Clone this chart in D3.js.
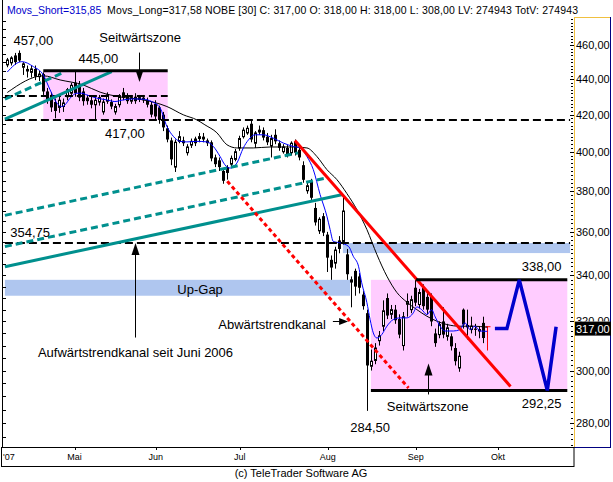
<!DOCTYPE html>
<html><head><meta charset="utf-8">
<script src="https://cdn.jsdelivr.net/npm/d3@7/dist/d3.min.js"></script>
<style>
body{margin:0;background:#fff;}
svg{display:block;}
.ann{font-family:"Liberation Sans",Arial,sans-serif;font-size:13px;fill:#000;}
.nar{font-family:"Liberation Sans",Arial,sans-serif;}
</style></head><body>
<svg id="c" width="613" height="482"></svg>
<script>
// ---------- DATA ----------
// candle index 0 = first trading day shown (early April 2007), one per trading day
const opens  = [448.4,449.6,454,455.5,447,446,444,446,441.5,443,433,431,427,424,424.5,430,432,438,437,433,429.5,428,425.5,427,421.5,427.5,427,421.5,425.5,432.5,430.5,427.5,430,428.5,429.5,428,425.5,426,424,420,412.5,406,392,405.5,406,399.5,403.5,407,407,408,406,405,397,395.5,390,392,393.5,396,402,408,410,415,404.5,410.5,411.5,408,403,409,404.5,400,402,399.5,405.5,401,393,380,384.5,371.5,360.5,367.5,358.7,347,345.5,356,355.5,349.5,337,342,339.5,331.5,323.5,301.7,304,312,318,330,323,325,321,310,327.3,325,334.5,327.2,334.4,330.5,330.5,315,314.5,320,313.8,313.8,309,301,325,318.5,316.6,317,316,319.4,318];
const highs  = [452.5,453.5,455.5,457,450,448,448,448,445,444,435,432.5,429,430,429,435,438,445,439,435,431,430,430,431,429,432.5,428.5,426,431.5,435,432,431,432,431,431,429.5,427,428,425,421.5,414,407.5,406.5,411,408,404,407,408,410,410,407,406,398.5,397,391,393,398,401.5,408.5,413,414,417,411,414,413,410,409,412,406,404,403.5,405.5,406.5,403,395,384,386,374,367,369,360,349,353,358,378,352,339.5,343,341,333,325,308.4,311,316,329,332,327,327,323,324,332,331,338,334,336,332.5,332,317,320,326,319,315,311,307.5,325.5,325,322,319,318,322,318];
const lows   = [447,448,448.4,450,442.5,441,441,439.5,439,431,426,421.5,418,421,421.5,428,431,430,427.5,425,425.5,423.5,417.5,425,420,426,423,420,424,428,426,426,426,427,426.5,424,418.5,417,415,411,405,393,389.5,404.5,403,398,402,403,405,405,403,395,392,390,383.5,385.6,392,395,400.5,407,409,405,402,409,406,403.5,397,404,400.5,399,397,398,398,395.5,384,378.5,375,363,359,358,341.5,338,343,350,354,338,326,331,332,325,284.5,300,302.5,310,316,321,321,319,313,308,322,323.5,326.5,325.5,325,323,318,309.5,313,313,312,308,302,299.5,317,312.5,315,314,313,311,308];
const closes = [451.3,452.5,450,451,449,444.5,446,441.5,443,433,428.5,424,422,428,426.5,434,436.5,432,429.5,427.5,427.5,425.5,428,429.5,427,431,424.5,424.5,430,429.5,427.5,429.5,427.5,429.5,428,425.5,420,419,417,413,406.5,396,405,408,404.5,402.5,405.5,404.5,408,406.5,404.5,396.5,393.5,392,385,389,396.5,400,407,411.5,412.5,406.5,410,411.5,407.5,405,407,405.5,402,402.5,398.5,404.5,399.5,397,385.5,382.5,376.5,364.5,366,359.6,348,343.5,351.5,352,370,340.5,338,335,334.5,326.5,302,303.7,309,314,324.5,322.5,325,320.5,314.5,322,328.5,329.3,328,332.4,326.5,325,320,311,318.7,314.5,317.3,309.7,303.7,305.7,318.7,317.5,318,316.5,316.6,313.1,317];

// moving averages: [candle index, value]
const maShort = [[0,444.2],[3.6,450.3],[6.5,447.4],[9,442.5],[10.7,433.9],[12.4,426.4],[13.6,424.5],[14.4,425.4],[15.7,429.2],[17.4,432],[18.6,432],[19.9,431],[22.4,429.2],[24.9,428.2],[26.9,427.3],[29,428.2],[31.5,428.8],[34,428.6],[36.1,427.3],[38.2,423.7],[39.9,413.5],[41.5,408.2],[43.2,405.5],[44.9,405.2],[47.4,405.5],[49.9,405.2],[51.5,402.8],[53.2,397.5],[54.4,393.2],[55.7,391.5],[57.4,394.1],[59,402],[60.3,406.3],[61.9,409],[64,409],[66.5,407.2],[69,404.6],[71.5,402.8],[73.2,402],[74.9,397.5],[76.5,390.7],[78.2,378.1],[79.9,367.5],[80.7,361.1],[81.5,355.5],[83.2,354.8],[85.3,353.2],[86.5,348.6],[87.8,344.1],[88.6,336.7],[89.9,328],[90.7,320.8],[91.5,315.2],[92.4,313.1],[93.6,314.5],[94.9,318],[96.5,320.8],[98.2,321.5],[99.9,321.5],[101.5,323.6],[102.4,326.2],[103.6,325],[104.9,322.9],[106.1,325],[106.9,322.2],[108.2,318],[109.4,316],[111.5,316],[113.2,316.6],[114.4,319.4],[115.7,316.6],[116.9,318],[118.2,316],[120,315.85]];
const maLong = [[0,432.4],[9,442],[13.2,439.6],[19,436.7],[23.2,432.6],[28.2,429.9],[34,428.2],[39.9,424.5],[44,419.9],[47.4,417.1],[49.4,414.4],[52.4,410.1],[54.9,403.7],[57.4,402],[61.5,402],[65.7,402.5],[71.5,402.5],[74.9,402],[77.4,397.5],[79.9,390.7],[82.4,385.6],[84.9,378.6],[87.4,370.7],[89.9,361.1],[92.4,349.4],[94.9,339.6],[97.4,332.4],[99.9,328.2],[102.4,325],[104.9,322.2],[107.4,320.1],[109.9,318.7],[113.2,318],[116.5,318],[120,317.58]];

// month ticks (candle-index positions) and labels
const monthLabels = ["'07","Mai","Jun","Jul","Aug","Sep","Okt"];
const monthPos    = [-0.2,16.8,37.1,58.1,80.1,102.1,122.7];
const yTickValues = [280,300,320,340,360,380,400,420,440,460];

// annotations (index, price)
const zones = [{x0:9.0,x1:40.1,top:445,bottom:417,lineFrom:9.0},{x0:90.9,x1:140.0,top:338,bottom:292.25,lineFrom:102.2}];
const gaps  = [{x0:-0.6,x1:85.7,lo:331.0,hi:338.0},{x0:83.9,x1:140.7,lo:350.1,hi:354.75}];
const levels = [{v:417,x0:-0.6,x1:140.7},{v:430.5,x0:-0.6,x1:40.1},{v:354.75,x0:-0.6,x1:140.7}];
const tealLines = [
  {x0:-0.6,v0:343.9,x1:83.9,v1:378.1,dash:false},
  {x0:-0.6,v0:353.1,x1:80.2,v1:386.6,dash:true},
  {x0:-0.6,v0:367.9,x1:72.7,v1:399.4,dash:true},
  {x0:-0.6,v0:417.5,x1:26.1,v1:444.4,dash:false},
  {x0:-0.6,v0:428.6,x1:14.4,v1:444.4,dash:true}];
const redLines = [{x0:71.9,v0:406,x1:125.8,v1:293.8,dash:false},{x0:55,v0:384.8,x1:100.3,v1:293.2,dash:true}];
const forecast = [[121.9,317],[124.9,317],[128,338],[135,292.25],[137.2,317.8]];
const vArrows = [{i:33.0,from:455.7,to:438.4},{i:31.9,from:313.3,to:354.75},{i:105.1,from:290.7,to:302.8}];
const hArrows = [{from:81.4,to:85.2,v:320.3}];
const labels = [
  {t:"457,00",i:6.5,v:462.9,a:"middle"},
  {t:"Seitwärtszone",i:33.2,v:465.1,a:"middle"},
  {t:"445,00",i:22.75,v:452.3,a:"middle"},
  {t:"417,00",i:29.4,v:409.9,a:"middle"},
  {t:"354,75",i:5.7,v:360.0,a:"middle"},
  {t:"Up-Gap",i:48.2,v:334.0,a:"middle"},
  {t:"Aufwärtstrendkanal seit Juni 2006",i:32.05,v:307.3,a:"middle"},
  {t:"Abwärtstrendkanal",i:52.75,v:319.0,a:"start"},
  {t:"Seitwärtszone",i:105.1,v:286.1,a:"middle"},
  {t:"284,50",i:90.7,v:278.6,a:"middle"},
  {t:"338,00",i:133.6,v:343.9,a:"middle"},
  {t:"292,25",i:133.6,v:287.3,a:"middle"}];
const lastValue = 317;
const headerBlue = "Movs_Short=315,85";
const headerRest = "Movs_Long=317,58 NOBE [30] C: 317,00 O: 318,00 H: 318,00 L: 308,00 LV: 274943 TotV: 274943";

// ---------- DRAW ----------
const svg=d3.select("#c");
const PL=2,PR=574,PT=18,PB=447;
const x=d3.scaleLinear().domain([-1.325,141.675]).range([PL,PR]);
const y=d3.scaleLog().domain([271.3,476.9]).range([PB,PT]);
const fmt=v=>v.toFixed(2).replace(".",",");

svg.append("rect").attr("width",613).attr("height",482).attr("fill","#fff");
svg.append("defs").append("clipPath").attr("id","pc").append("rect")
  .attr("x",PL).attr("y",PT).attr("width",PR-PL).attr("height",PB-PT);
const g=svg.append("g").attr("clip-path","url(#pc)");

// zones & gaps
g.selectAll(".zone").data(zones).join("rect")
  .attr("x",d=>x(d.x0)).attr("width",d=>x(d.x1)-x(d.x0))
  .attr("y",d=>y(d.top)).attr("height",d=>y(d.bottom)-y(d.top)).attr("fill","#ffccff");
g.selectAll(".gap").data(gaps).join("rect")
  .attr("x",d=>x(d.x0)).attr("width",d=>x(d.x1)-x(d.x0))
  .attr("y",d=>y(d.hi)).attr("height",d=>y(d.lo)-y(d.hi)).attr("fill","#afc6ef");

// candles
const idx=d3.range(closes.length);
const cx=i=>Math.round(x(i))+0.5;
const last=closes.length-1;
g.selectAll(".wick").data(idx.filter(i=>i!==last)).join("line")
  .attr("x1",cx).attr("x2",cx).attr("y1",i=>y(highs[i])).attr("y2",i=>y(lows[i]))
  .attr("stroke","#000").attr("stroke-width",1);
g.selectAll(".body").data(idx.filter(i=>i!==last)).join("rect")
  .attr("x",i=>closes[i]<opens[i]?cx(i)-1.5:cx(i)-1)
  .attr("width",i=>closes[i]<opens[i]?3:2)
  .attr("y",i=>y(Math.max(opens[i],closes[i])))
  .attr("height",i=>Math.max(1,y(Math.min(opens[i],closes[i]))-y(Math.max(opens[i],closes[i]))))
  .attr("fill",i=>closes[i]<opens[i]?"#000":"#fff")
  .attr("stroke",i=>closes[i]<opens[i]?"none":"#000").attr("stroke-width",1);
// last bar (red)
g.append("line").attr("x1",cx(last)).attr("x2",cx(last)).attr("y1",y(highs[last])).attr("y2",y(lows[last]))
  .attr("stroke","#ff0000").attr("stroke-width",1);
g.append("line").attr("x1",cx(last)-2).attr("x2",cx(last)+3).attr("y1",y(opens[last])+0.5).attr("y2",y(opens[last])+0.5)
  .attr("stroke","#ff0000").attr("stroke-width",1);

// moving averages
const ln=d3.line().x(d=>x(d[0])).y(d=>y(d[1])).curve(d3.curveMonotoneX);
g.append("path").attr("d",ln(maLong)).attr("fill","none").attr("stroke","#000").attr("stroke-width",1);
g.append("path").attr("d",ln(maShort)).attr("fill","none").attr("stroke","#0000ff").attr("stroke-width",1);

// level lines
g.selectAll(".lvl").data(levels).join("line")
  .attr("x1",d=>x(d.x0)).attr("x2",d=>x(d.x1)).attr("y1",d=>Math.round(y(d.v))).attr("y2",d=>Math.round(y(d.v)))
  .attr("stroke","#000").attr("stroke-width",2).attr("stroke-dasharray","8,4");
// teal channel
g.selectAll(".teal").data(tealLines).join("line")
  .attr("x1",d=>x(d.x0)).attr("x2",d=>x(d.x1)).attr("y1",d=>y(d.v0)).attr("y2",d=>y(d.v1))
  .attr("stroke","#00908e").attr("stroke-width",3).attr("stroke-dasharray",d=>d.dash?"7,4":null);
// red channel
g.selectAll(".red").data(redLines).join("line")
  .attr("x1",d=>x(d.x0)).attr("x2",d=>x(d.x1)).attr("y1",d=>y(d.v0)).attr("y2",d=>y(d.v1))
  .attr("stroke","#ff0000").attr("stroke-width",3).attr("stroke-dasharray",d=>d.dash?"4,3":null);
// zone borders
zones.forEach(z=>{
  g.append("line").attr("x1",x(z.lineFrom)).attr("x2",x(z.x1)).attr("y1",y(z.top)).attr("y2",y(z.top))
   .attr("stroke","#000").attr("stroke-width",3);
});
g.append("line").attr("x1",x(zones[1].x0)).attr("x2",x(zones[1].x1)).attr("y1",y(zones[1].bottom)).attr("y2",y(zones[1].bottom))
  .attr("stroke","#000").attr("stroke-width",3);
// forecast zigzag
g.append("path").attr("d",d3.line().x(d=>x(d[0])).y(d=>y(d[1]))(forecast))
  .attr("fill","none").attr("stroke","#0000cc").attr("stroke-width",3.5).attr("stroke-linejoin","miter");
// arrows
vArrows.forEach(a=>{
  const xx=Math.round(x(a.i))+0.5, y0=y(a.from), y1=y(a.to), s=y1>y0?-1:1;
  g.append("line").attr("x1",xx).attr("x2",xx).attr("y1",y0).attr("y2",y1+s*6).attr("stroke","#000").attr("stroke-width",1);
  g.append("path").attr("d",`M${xx-4},${y1+s*12}L${xx+4},${y1+s*12}L${xx},${y1}Z`).attr("fill","#000");
});
hArrows.forEach(a=>{
  const x0=x(a.from), x1=x(a.to), yy=Math.round(y(a.v))+0.5;
  g.append("line").attr("x1",x0).attr("x2",x1-6).attr("y1",yy).attr("y2",yy).attr("stroke","#000").attr("stroke-width",1);
  g.append("path").attr("d",`M${x1-9},${yy-3.5}L${x1-9},${yy+3.5}L${x1},${yy}Z`).attr("fill","#000");
});
// labels
g.selectAll(".lab").data(labels).join("text").attr("class","ann")
  .attr("x",d=>x(d.i)).attr("y",d=>y(d.v)+4.7).attr("text-anchor",d=>d.a).text(d=>d.t);

// left axis ticks
const minor=d3.range(275,480,5);
svg.selectAll(".lt").data(minor.filter(v=>y(v)>PT&&y(v)<PB)).join("line")
  .attr("x1",PL).attr("x2",PL+4).attr("y1",v=>Math.round(y(v))+0.5).attr("y2",v=>Math.round(y(v))+0.5)
  .attr("stroke","#000");
svg.append("line").attr("x1",PL+0.5).attr("x2",PL+0.5).attr("y1",0).attr("y2",PB).attr("stroke","#000");

// right axis: minor dotted ticks
const rminor=d3.range(272,478,2);
svg.selectAll(".rt").data(rminor.filter(v=>y(v)>PT&&y(v)<PB)).join("line")
  .attr("x1",PR-3).attr("x2",PR-1).attr("y1",v=>Math.round(y(v))+0.5).attr("y2",v=>Math.round(y(v))+0.5)
  .attr("stroke","#000");
svg.selectAll(".rmt").data(yTickValues).join("line")
  .attr("x1",PR-4).attr("x2",PR).attr("y1",v=>Math.round(y(v))+0.5).attr("y2",v=>Math.round(y(v))+0.5)
  .attr("stroke","#000");
svg.selectAll(".yl").data(yTickValues.filter(v=>v!==320)).join("text").attr("class","nar")
  .attr("x",576).attr("y",v=>y(v)+4).attr("font-size",11).attr("fill","#000").text(fmt);
// 320 label is mostly hidden behind the last-value box: only its top part shows
svg.append("defs").append("clipPath").attr("id","c320").append("rect")
  .attr("x",575).attr("y",PT).attr("width",36).attr("height",y(lastValue)-7-PT);
svg.append("text").attr("class","nar").attr("clip-path","url(#c320)")
  .attr("x",576).attr("y",y(320)+4).attr("font-size",11).attr("fill","#000").text(fmt(320));
// right panel frame
svg.append("line").attr("x1",PR+0.5).attr("x2",PR+0.5).attr("y1",17).attr("y2",PB).attr("stroke","#f0c040");
svg.append("line").attr("x1",PR).attr("x2",611).attr("y1",17.5).attr("y2",17.5).attr("stroke","#f0c040");
svg.append("line").attr("x1",610.5).attr("x2",610.5).attr("y1",17).attr("y2",PB+1).attr("stroke","#000080");
svg.append("line").attr("x1",PR).attr("x2",611).attr("y1",PB+0.5).attr("y2",PB+0.5).attr("stroke","#000080");
// last value box
svg.append("rect").attr("x",575).attr("y",y(lastValue)-7).attr("width",36).attr("height",14).attr("fill","#000");
svg.append("text").attr("class","nar").attr("x",576).attr("y",y(lastValue)+4).attr("font-size",11)
  .attr("fill","#fff").text(fmt(lastValue));

// x axis box
svg.append("rect").attr("x",1.5).attr("y",PB+0.5).attr("width",PR-1.5).attr("height",19).attr("fill","none").attr("stroke","#000");
svg.selectAll(".xt").data(monthPos.slice(1)).join("line")
  .attr("x1",p=>Math.round(x(p))+0.5).attr("x2",p=>Math.round(x(p))+0.5).attr("y1",PB).attr("y2",PB+3).attr("stroke","#000");
svg.selectAll(".xl").data(monthLabels).join("text").attr("class","nar")
  .attr("x",(d,k)=>k===0?3:x(monthPos[k])).attr("y",460).attr("font-size",9)
  .attr("text-anchor",(d,k)=>k===0?"start":"middle").text(d=>d);

// header
svg.append("text").attr("class","nar").attr("x",7).attr("y",14).attr("font-size",10.5)
  .attr("fill","#0000cc").text(headerBlue);
svg.append("text").attr("class","nar").attr("x",107).attr("y",14).attr("font-size",10.5)
  .attr("textLength",471).attr("lengthAdjust","spacing").attr("fill","#000").text(headerRest);
// copyright
svg.append("text").attr("class","nar").attr("x",301).attr("y",477).attr("font-size",11)
  .attr("text-anchor","middle").text("(c) TeleTrader Software AG");
</script></body></html>
